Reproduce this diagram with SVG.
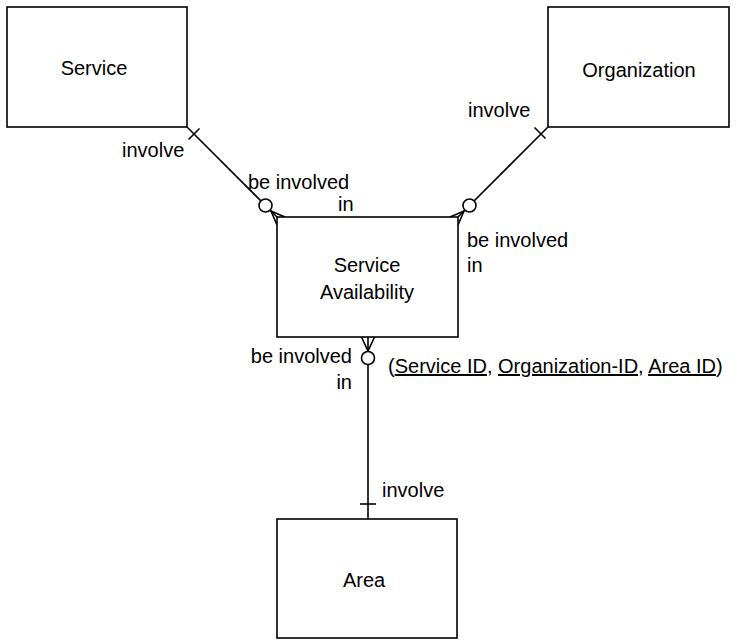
<svg xmlns="http://www.w3.org/2000/svg" width="746" height="640" viewBox="0 0 746 640">
  <style>
    .box { fill: #ffffff; stroke: #000000; stroke-width: 1.6; }
    .ln { fill: none; stroke: #000000; stroke-width: 1.6; }
    .circ { fill: #ffffff; stroke: #000000; stroke-width: 1.6; }
    text { font-family: "Liberation Sans", Arial, Helvetica, sans-serif; font-size: 20px; fill: #000000; }
    .c { text-anchor: middle; }
    .u { text-decoration: underline; }
  </style>
  <rect width="746" height="640" fill="#ffffff"/>

  <g id="connectors">
    <!-- Service to Service Availability -->
    <line class="ln" x1="187" y1="127" x2="277" y2="217"/>
    <line class="ln" x1="188.5" y1="139.5" x2="199.5" y2="128.5"/>
    <polyline class="ln" points="285,217 271,211 277,225"/>
    <circle class="circ" cx="265.5" cy="205.5" r="6.5"/>

    <!-- Organization to Service Availability -->
    <line class="ln" x1="548" y1="127" x2="458" y2="217"/>
    <line class="ln" x1="534.5" y1="127.5" x2="545.5" y2="138.5"/>
    <polyline class="ln" points="450,217 464,211 458,225"/>
    <circle class="circ" cx="469.5" cy="205.5" r="6.5"/>

    <!-- Service Availability to Area -->
    <line class="ln" x1="368" y1="337" x2="368" y2="519"/>
    <polyline class="ln" points="361.5,337 368,351 374.5,337"/>
    <circle class="circ" cx="368" cy="358" r="6.5"/>
    <line class="ln" x1="360" y1="504" x2="376" y2="504"/>
  </g>

  <g id="service">
    <rect class="box" x="7" y="7" width="180" height="120"/>
    <text class="c" x="94" y="75">Service</text>
  </g>

  <g id="organization">
    <rect class="box" x="548" y="7" width="181" height="120"/>
    <text class="c" x="639" y="77">Organization</text>
  </g>

  <g id="service-availability">
    <rect class="box" x="277" y="217" width="181" height="120"/>
    <text class="c" x="367" y="272">Service</text>
    <text class="c" x="367" y="299">Availability</text>
  </g>

  <g id="area">
    <rect class="box" x="277" y="519" width="180" height="119"/>
    <text class="c" x="364" y="587">Area</text>
  </g>

  <g id="labels">
    <text x="122" y="157">involve</text>
    <text x="248" y="189">be involved</text>
    <text x="338" y="211">in</text>

    <text x="468" y="117">involve</text>
    <text x="467" y="247">be involved</text>
    <text x="467" y="272">in</text>

    <text x="352" y="363" text-anchor="end">be involved</text>
    <text x="352" y="389" text-anchor="end">in</text>

    <text x="382" y="497">involve</text>

    <text x="388" y="373">(<tspan class="u">Service ID</tspan>, <tspan class="u">Organization-ID</tspan>, <tspan class="u">Area ID</tspan>)</text>
  </g>
</svg>
